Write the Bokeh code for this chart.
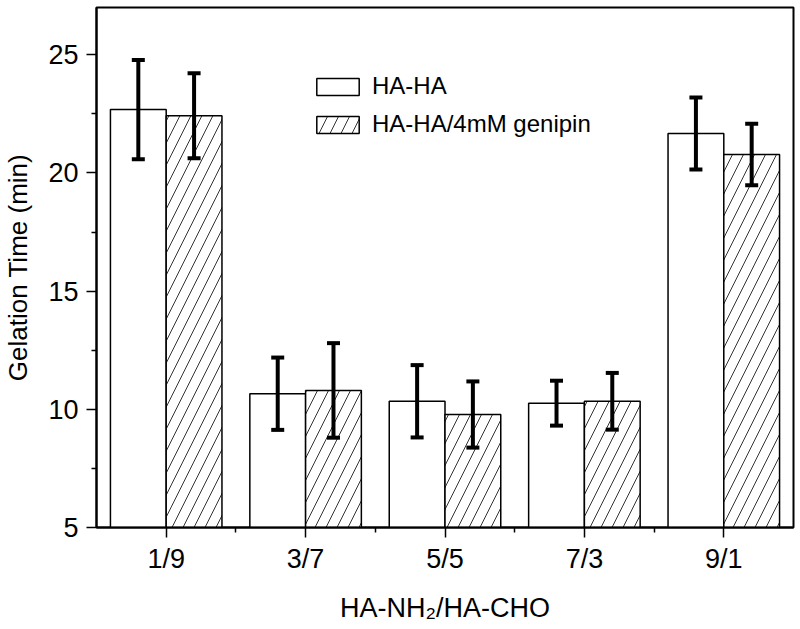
import math
from bokeh.plotting import figure
from bokeh.models import (ColumnDataSource, FixedTicker, Whisker, TeeHead,
                          Legend, LegendItem, Range1d)
from bokeh.embed import file_html
from bokeh.resources import INLINE

# ---- data ----
categories = ["1/9", "3/7", "5/5", "7/3", "9/1"]
series_names = ["HA-HA", "HA-HA/4mM genipin"]
ha_ha = [22.68, 10.66, 10.34, 10.26, 21.67]
ha_ha_err = [2.10, 1.53, 1.53, 0.95, 1.52]
genipin = [22.42, 10.80, 9.78, 10.34, 20.78]
genipin_err = [1.80, 2.00, 1.40, 1.20, 1.30]
y_ticks = [5, 10, 15, 20, 25]

FONT = "Liberation Sans"
idx = list(range(1, len(categories) + 1))
off = 0.2
bw = 0.4

s1 = ColumnDataSource(dict(
    x=[i - off for i in idx], top=ha_ha,
    upper=[v + e for v, e in zip(ha_ha, ha_ha_err)],
    lower=[v - e for v, e in zip(ha_ha, ha_ha_err)]))
s2 = ColumnDataSource(dict(
    x=[i + off for i in idx], top=genipin,
    upper=[v + e for v, e in zip(genipin, genipin_err)],
    lower=[v - e for v, e in zip(genipin, genipin_err)]))

p = figure(width=800, height=629, output_backend="svg", toolbar_location=None,
           x_range=Range1d(0.5, len(categories) + 0.5), y_range=Range1d(5, 27),
           frame_width=697, frame_height=520,
           min_border_left=96, min_border_right=7, min_border_top=7, min_border_bottom=102)
p.background_fill_color = "white"
p.border_fill_color = "white"
p.grid.visible = False
p.outline_line_color = "black"
p.outline_line_width = 2

r1 = p.vbar(x="x", top="top", bottom=5, width=bw, source=s1,
            fill_color="white", line_color="black", line_width=1.5)
r2 = p.vbar(x="x", top="top", bottom=5, width=bw, source=s2,
            fill_color="white", line_color="black", line_width=1.5,
            hatch_pattern="/", hatch_scale=22, hatch_weight=1, hatch_color="#333333")

for src in (s1, s2):
    w = Whisker(source=src, base="x", upper="upper", lower="lower",
                line_color="black", line_width=4, level="overlay",
                upper_head=TeeHead(size=13, line_color="black", line_width=4),
                lower_head=TeeHead(size=13, line_color="black", line_width=4))
    p.add_layout(w)

# axes
xa = p.xaxis[0]
xa.ticker = FixedTicker(ticks=idx, minor_ticks=[i + 0.5 for i in idx[:-1]])
xa.major_label_overrides = {i: c for i, c in zip(idx, categories)}
ya = p.yaxis[0]
ya.ticker = FixedTicker(ticks=y_ticks, minor_ticks=[t + 2.5 for t in y_ticks])
for ax in (xa, ya):
    ax.axis_line_color = "black"
    ax.axis_line_width = 2
    ax.major_tick_line_color = "black"
    ax.major_tick_line_width = 1.5
    ax.minor_tick_line_color = "black"
    ax.minor_tick_line_width = 1.5
    ax.major_tick_out = 10
    ax.major_tick_in = 0
    ax.minor_tick_out = 5
    ax.minor_tick_in = 0
    ax.major_label_text_font = FONT
    ax.major_label_text_font_size = "27px"
    ax.major_label_text_color = "black"
    ax.axis_label_text_font = FONT
    ax.axis_label_text_font_style = "normal"
    ax.axis_label_text_color = "black"
xa.major_label_standoff = 6
ya.major_label_standoff = 8

xa.axis_label = "HA-NH\u2082/HA-CHO"
xa.axis_label_text_font_size = "27px"
xa.axis_label_standoff = 16
ya.axis_label = "Gelation Time (min)"
ya.axis_label_text_font_size = "26px"
ya.axis_label_standoff = 12

legend = Legend(items=[LegendItem(label=series_names[0], renderers=[r1]),
                       LegendItem(label=series_names[1], renderers=[r2])],
                location=(215, 389), border_line_color=None, background_fill_alpha=0,
                padding=0, margin=0, spacing=10, glyph_width=53, glyph_height=21,
                label_standoff=8, label_text_font=FONT, label_text_font_size="24px",
                label_text_color="black", label_height=21)
p.add_layout(legend)

open("out.html", "w").write(file_html(p, INLINE))
